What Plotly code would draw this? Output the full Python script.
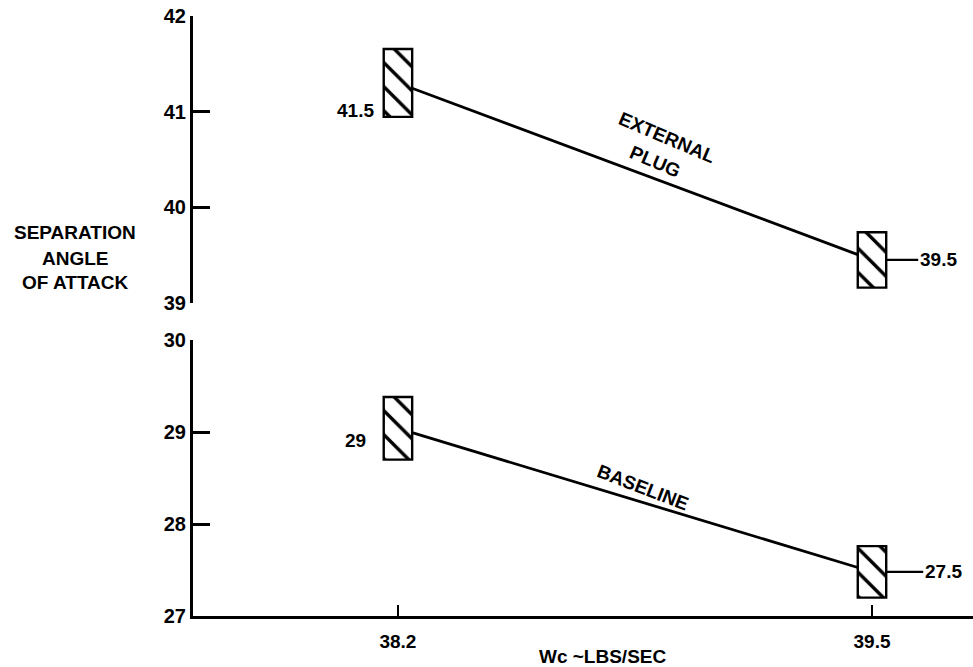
import plotly.graph_objects as go
from plotly.subplots import make_subplots

# ---- data ----
x_vals = [38.2, 39.5]
x_ticktext = ["38.2", "39.5"]

ext_center = [41.30, 39.45]      # plotted centre of each band (External plug)
ext_half = [0.355, 0.29]         # half height of each band
ext_labels = ["41.5", "39.5"]

base_center = [29.04, 27.48]     # plotted centre of each band (Baseline)
base_half = [0.34, 0.28]
base_labels = ["29", "27.5"]

top_ticks = [39, 40, 41, 42]
bot_ticks = [27, 28, 29, 30]

FONT = "Liberation Sans"
BOX_W = 0.078

fig = make_subplots(rows=2, cols=1, shared_xaxes=False, vertical_spacing=0.0)

def add_series(row, centers, halves):
    # connecting line clipped at the box edges so the boxes stay clean
    slope = (centers[1] - centers[0]) / (x_vals[1] - x_vals[0])
    xa = x_vals[0] + BOX_W / 2
    xb = x_vals[1] - BOX_W / 2
    ya = centers[0] + slope * (xa - x_vals[0])
    yb = centers[0] + slope * (xb - x_vals[0])
    fig.add_trace(go.Scatter(x=[xa, xb], y=[ya, yb], mode="lines",
                             line=dict(color="black", width=2.8),
                             showlegend=False, hoverinfo="skip"), row=row, col=1)
    lo = [c - h for c, h in zip(centers, halves)]
    hh = [2 * h for h in halves]
    fig.add_trace(go.Bar(x=x_vals, y=hh, base=lo, width=BOX_W,
                         marker=dict(color="white",
                                     line=dict(color="black", width=2.4),
                                     pattern=dict(shape="\\", fgcolor="black",
                                                  bgcolor="white", size=17,
                                                  solidity=0.2, fgopacity=1)),
                         showlegend=False, hoverinfo="skip"), row=row, col=1)

add_series(1, ext_center, ext_half)
add_series(2, base_center, base_half)

xr = [37.638, 39.777]
fig.update_xaxes(range=xr, row=1, col=1, showline=False, showticklabels=False,
                 ticks="", showgrid=False, zeroline=False)
fig.update_xaxes(range=xr, row=2, col=1, showline=True, linecolor="black",
                 linewidth=2.5, ticks="inside", ticklen=11, tickwidth=2.2,
                 tickcolor="black", tickvals=x_vals, ticktext=x_ticktext,
                 showgrid=False, zeroline=False, ticklabelstandoff=6,
                 tickfont=dict(family=FONT, size=19, color="black", weight="bold"))

yaxis_common = dict(showline=True, linecolor="black", linewidth=3,
                    ticks="inside", ticklen=17, tickwidth=2.8, tickcolor="black",
                    showgrid=False, zeroline=False,
                    tickfont=dict(family=FONT, size=20, color="black", weight="bold"))
fig.update_yaxes(range=[39, 42], tickvals=top_ticks, domain=[0.5217, 1.0],
                 row=1, col=1, **yaxis_common)
fig.update_yaxes(range=[27, 30], tickvals=bot_ticks, domain=[0.0, 0.46],
                 row=2, col=1, **yaxis_common)

bold = dict(family=FONT, size=19, color="black", weight="bold")
C = dict(xanchor="center", yanchor="middle")
ann = []
# value labels on the left of first band
ann.append(dict(x=x_vals[0], y=ext_center[0], xref="x", yref="y", text=ext_labels[0],
                showarrow=False, xanchor="right", yanchor="middle", xshift=-22,
                yshift=-28, font=bold))
ann.append(dict(x=x_vals[0], y=base_center[0], xref="x2", yref="y2", text=base_labels[0],
                showarrow=False, xanchor="right", yanchor="middle", xshift=-30,
                yshift=-12, font=bold))
# value labels on the right with leader lines
ann.append(dict(x=x_vals[1] + BOX_W / 2, y=ext_center[1], xref="x", yref="y",
                text=ext_labels[1], showarrow=True, arrowhead=0, arrowwidth=2.2,
                arrowcolor="black", ax=52, ay=0, standoff=0, font=bold))
ann.append(dict(x=x_vals[1] + BOX_W / 2, y=base_center[1], xref="x2", yref="y2",
                text=base_labels[1], showarrow=True, arrowhead=0, arrowwidth=2.2,
                arrowcolor="black", ax=57, ay=0, standoff=0, font=bold))
# curve names
ann.append(dict(x=(667 - 193) / 780, y=(616 - 137) / 600, xref="paper", yref="paper",
                text="EXTERNAL", showarrow=False, textangle=23, font=bold, **C))
ann.append(dict(x=(655 - 193) / 780, y=(616 - 161) / 600, xref="paper", yref="paper",
                text="PLUG", showarrow=False, textangle=23, font=bold, **C))
ann.append(dict(x=(643 - 193) / 780, y=(616 - 487) / 600, xref="paper", yref="paper",
                text="BASELINE", showarrow=False, textangle=21, font=bold, **C))
# axis titles
for txt, py in [("SEPARATION", 232), ("ANGLE", 258), ("OF ATTACK", 283)]:
    ann.append(dict(x=(75 - 193) / 780, y=(616 - py) / 600, xref="paper", yref="paper",
                    text=txt, showarrow=False, font=bold, **C))
ann.append(dict(x=(602 - 193) / 780, y=(616 - 656) / 600, xref="paper", yref="paper",
                text="Wc ~LBS/SEC", showarrow=False, font=bold, **C))

fig.update_layout(width=973, height=667, margin=dict(l=193, r=0, t=16, b=51),
                  paper_bgcolor="white", plot_bgcolor="white",
                  annotations=ann, barmode="overlay", showlegend=False)

fig.write_html("out.html")
